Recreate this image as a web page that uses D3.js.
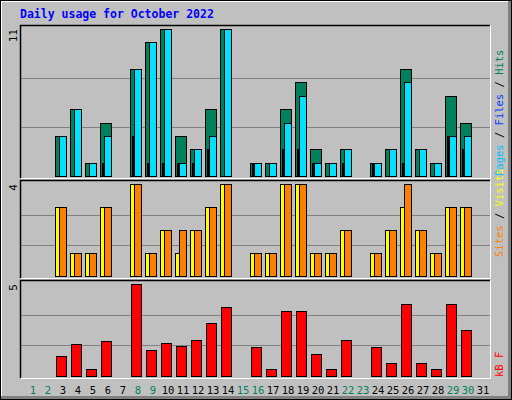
<!DOCTYPE html>
<html><head><meta charset="utf-8">
<script src="https://cdn.jsdelivr.net/npm/d3@7"></script>
<style>body{margin:0;background:#fff}</style>
</head><body>
<svg id="c" width="512" height="400"></svg>
<script>
// data
var days = d3.range(1, 32);
var weekend = [1, 2, 8, 9, 15, 16, 22, 23, 29, 30];
var hits  = [0,0,3,5,1,4,0,8,10,11,3,2,5,11,0,1,1,5,7,2,1,2,0,1,2,8,2,1,6,4,0];
var files = [0,0,3,5,1,3,0,8,10,11,1,2,3,11,0,1,1,4,6,1,1,2,0,1,2,7,2,1,3,3,0];
var pages = [0,0,0,0,0,1,0,3,1,1,1,1,2,0,0,1,0,2,2,1,0,1,0,1,0,1,0,0,3,2,0];
var sites = [0,0,3,1,1,3,0,4,1,2,1,2,3,4,0,1,1,4,4,1,1,2,0,1,2,3,2,1,3,3,0];
var visits= [0,0,3,1,1,3,0,4,1,2,2,2,3,4,0,1,1,4,4,1,1,2,0,1,2,4,2,1,3,3,0];
var kbytes= [0,0,1.06,1.72,0.4,1.88,0,5,1.39,1.77,1.61,1.93,2.86,3.74,0,1.55,0.4,3.52,3.52,1.22,0.4,1.93,0,1.55,0.73,3.91,0.73,0.4,3.91,2.48,0];

var svg = d3.select("#c");
var mono = "'DejaVu Sans Mono', monospace";

// 3d frame
svg.append("rect").attr("width", 512).attr("height", 400).attr("fill", "#c0c0c0");
svg.append("path").attr("d", "M1,399V1H511").attr("stroke", "#fff").attr("stroke-width", 2).attr("fill", "none");
svg.append("path").attr("d", "M1,398H510V1").attr("stroke", "#808080").attr("stroke-width", 4).attr("fill", "none");
svg.append("rect").attr("x", 0.5).attr("y", 0.5).attr("width", 511).attr("height", 399).attr("fill", "none").attr("stroke", "#000");

svg.append("text").attr("x", 20).attr("y", 18).attr("font-family", mono).attr("font-weight", "bold")
  .attr("font-size", 11.5).attr("fill", "#0000ff").text("Daily usage for October 2022");

var x = d3.scaleLinear().domain([1, 32]).range([25, 490]);

function panel(top, bottom, max, maxLabel) {
  var y = d3.scaleLinear().domain([0, max]).range([bottom - 2, top + 4]);
  var g = svg.append("g");
  g.append("rect").attr("x", 20).attr("y", top).attr("width", 470).attr("height", bottom - top).attr("fill", "#c0c0c0");
  [1 / 3, 2 / 3].forEach(function (f) {
    var yy = Math.round(y(max * f)) + 0.5;
    g.append("line").attr("x1", 21).attr("x2", 490).attr("y1", yy).attr("y2", yy).attr("stroke", "#808080");
  });
  g.append("path").attr("d", "M20.5," + bottom + "V" + (top + 0.5) + "H490").attr("stroke", "#000").attr("stroke-width", 1.5).attr("fill", "none");
  g.append("path").attr("d", "M21," + (bottom + 0.5) + "H490.5V" + top).attr("stroke", "#fff").attr("fill", "none");
  g.append("text").attr("transform", "translate(17," + (top + 4) + ") rotate(-90)")
    .attr("text-anchor", "end").attr("font-family", mono).attr("font-size", 11).attr("fill", "#000").text(maxLabel);
  return { g: g, y: y };
}

function bars(p, vals, dx, w, color) {
  p.g.selectAll(null).data(days.filter(function (d) { return vals[d - 1] > 0; })).enter().append("rect")
    .attr("x", function (d) { return x(d) + dx + 0.5; })
    .attr("y", function (d) { return Math.round(p.y(vals[d - 1])) + 0.5; })
    .attr("width", w)
    .attr("height", function (d) { return p.y(0) - Math.round(p.y(vals[d - 1])); })
    .attr("fill", color).attr("stroke", "#000");
}

var p1 = panel(25, 178, 11, "11");
bars(p1, hits, 0, 11, "#00805c");
bars(p1, files, 4, 7, "#00e0ff");
bars(p1, pages, 2, 1, "#0040ff");

var p2 = panel(180, 278, 4, "4");
bars(p2, sites, 0, 11, "#ffff00");
bars(p2, visits, 4, 7, "#ff8000");

var p3 = panel(280, 378, 5, "5");
bars(p3, kbytes, 1, 10, "#ff0000");

// day labels
svg.selectAll(".day").data(days).enter().append("text")
  .attr("x", function (d) { return x(d) + 8; }).attr("y", 394)
  .attr("text-anchor", "middle").attr("font-family", mono).attr("font-size", 10.5)
  .attr("fill", function (d) { return weekend.indexOf(d) >= 0 ? "#00805c" : "#000"; })
  .text(function (d) { return d; });

// right-side legends
function legend(yBottom, parts) {
  var t = svg.append("text").attr("transform", "translate(503," + yBottom + ") rotate(-90)")
    .attr("font-family", mono).attr("font-size", 10.5);
  parts.forEach(function (p) { t.append("tspan").attr("fill", p[1]).text(p[0]); });
}
legend(176, [["Pages", "#00c0ff"], [" / ", "#000"], ["Files", "#0040ff"], [" / ", "#000"], ["Hits", "#00805c"]]);
legend(257, [["Sites", "#ff8000"], [" / ", "#000"], ["Visits", "#ffff00"]]);
legend(377, [["kB F", "#ff0000"]]);
</script>
</body></html>
